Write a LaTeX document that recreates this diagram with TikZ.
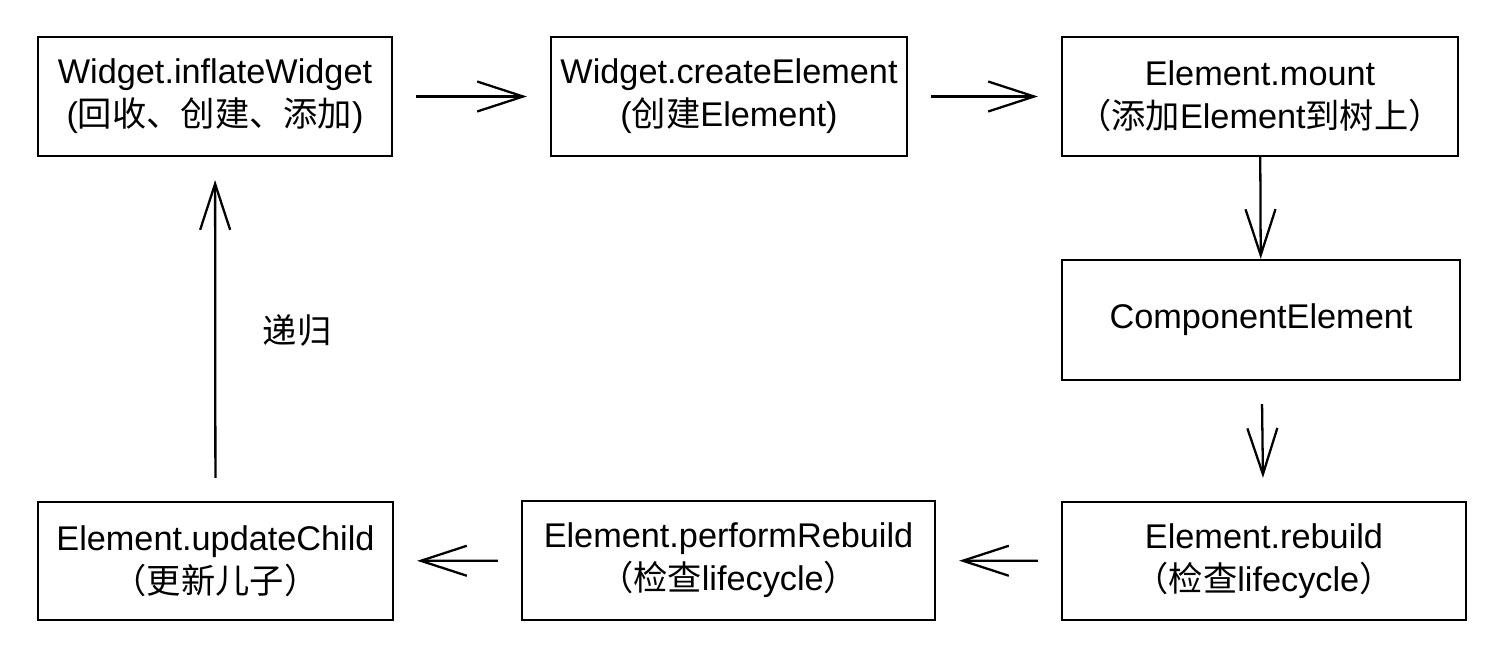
\documentclass[tikz,border=0pt]{standalone}
\usepackage{fontspec}
\setmainfont{Liberation Sans}
\newfontfamily\cjk{Noto Sans CJK SC}
\usepackage{tikz}
\usetikzlibrary{arrows.meta, positioning, calc}

\tikzset{
    blk/.style={draw, line width=1.3pt, rectangle, minimum height=2.38cm, align=center,
        inner sep=0pt, font=\fontsize{19.5}{24.5}\selectfont},
    flow/.style={-{Straight Barb[length=0.92cm, width=0.6cm]}, line width=1.3pt},
    spaced/.style={shorten <=0.46cm, shorten >=0.46cm}
}

\begin{document}
\begin{tikzpicture}
    \useasboundingbox (0,0) rectangle (30.16,-13.04);

    % inflate
    \node[blk, minimum width=7.08cm] (inflate) at (4.30,-1.93) {Widget.inflateWidget\\({\cjk 回收、创建、添加})};

    % create
    \node[blk, minimum width=7.12cm] (create) at (14.58,-1.93) {Widget.createElement\\({\cjk 创建}Element)};
    \draw[flow, spaced] (inflate) -- (create);

    % mount
    \node[blk, minimum width=7.92cm] (mount) at (25.20,-1.93) {Element.mount\\{\cjk （添加}Element{\cjk 到树上）}};
    \draw[flow, spaced] (create) -- (mount);

    % component
    \node[blk, minimum width=7.96cm, minimum height=2.40cm] (comp) at (25.22,-6.40) {ComponentElement};
    \draw[flow] (mount) -- (comp);

    % rebuild
    \node[blk, minimum width=8.08cm, minimum height=2.36cm] (rebuild) at (25.28,-11.22) {Element.rebuild\\{\cjk （检查}lifecycle{\cjk ）}};
    \draw[flow, spaced] (comp) -- (rebuild);

    % performRebuild
    \node[blk, minimum width=8.26cm] (perform) at (14.57,-11.21) {Element.performRebuild\\{\cjk （检查}lifecycle{\cjk ）}};
    \draw[flow, spaced] (rebuild) -- (perform);

    % updateChild
    \node[blk, minimum width=7.10cm, minimum height=2.36cm] (update) at (4.31,-11.22) {Element.updateChild\\{\cjk （更新儿子）}};
    \draw[flow, spaced] (perform) -- (update);

    % back to inflate
    \draw[flow, spaced] (update) -- (inflate);
    \node[font=\fontsize{19.5}{24}\selectfont\cjk] (recur) at (5.94,-6.6) {递归};
\end{tikzpicture}
\end{document}
